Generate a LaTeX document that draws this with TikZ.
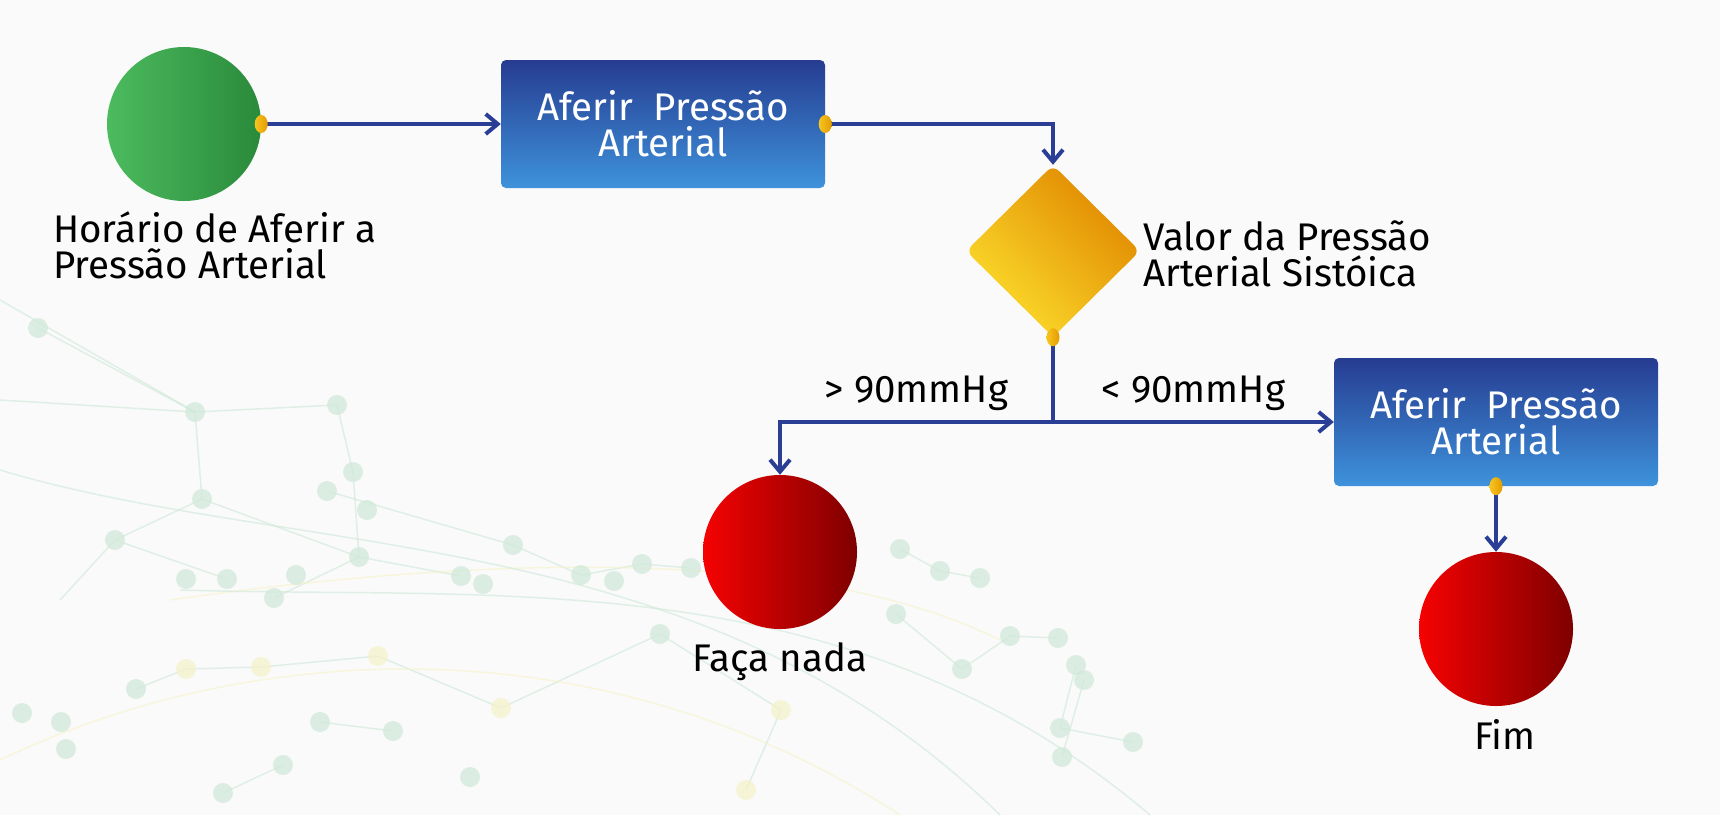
\documentclass[tikz,border=0pt]{standalone}
\usepackage{fontspec}
\setmainfont{Fira Sans}
\usetikzlibrary{arrows.meta, positioning, shapes.geometric}

\definecolor{verdeA}{HTML}{4CBB5E}
\definecolor{verdeB}{HTML}{2A8A3B}
\definecolor{azulA}{HTML}{263C91}
\definecolor{azulB}{HTML}{3E92DB}
\definecolor{amarelo}{HTML}{FCDD2C}
\definecolor{laranja}{HTML}{E08700}
\definecolor{vermA}{HTML}{F60202}
\definecolor{vermB}{HTML}{7E0000}
\definecolor{azulSeta}{HTML}{2A3E96}
\definecolor{pontoA}{HTML}{F7C520}
\definecolor{pontoB}{HTML}{E39B00}
\definecolor{fundo}{HTML}{FAFAFA}
\definecolor{verdeRede}{HTML}{CFE8D8}
\definecolor{amareloRede}{HTML}{F5F2C8}

\begin{document}
\begin{tikzpicture}[
	x=1pt, y=-1pt,
	every node/.style={font=\fontsize{38.5}{36}\selectfont},
	inicio/.style={circle, minimum size=154pt, inner sep=0, left color=verdeA, right color=verdeB},
	fim/.style={circle, minimum size=154pt, inner sep=0, left color=vermA, right color=vermB},
	acao/.style={rectangle, rounded corners=5pt, minimum width=324pt, minimum height=128pt, top color=azulA, bottom color=azulB, text=white, align=center},
	decisao/.style={diamond, minimum width=174pt, minimum height=172pt, inner sep=0, rounded corners=8pt, left color=amarelo, right color=laranja, shading angle=135},
	rotulo/.style={align=left, inner sep=0},
	ponto/.style={ellipse, minimum width=13pt, minimum height=18pt, inner sep=0, left color=pontoA, right color=pontoB},
	seta/.style={-{Straight Barb[length=12pt,width=20pt]}, line width=4pt, draw=azulSeta},
	linha/.style={line width=4pt, draw=azulSeta},
	rede/.style={draw=verdeRede, line width=1.5pt, opacity=0.6},
	nodo/.style={fill=verdeRede, opacity=0.7}
	]
	
	\useasboundingbox[fill=fundo] (0,0) rectangle (1720,815);
	
	% rede ao fundo
	\foreach \xa/\ya/\xb/\yb in {0/300/195/412, 38/328/195/412, 195/412/337/405, 0/400/195/412, 195/412/202/499,
		202/499/115/540, 337/405/353/472, 353/472/359/557, 202/499/359/557, 327/491/513/545, 359/557/274/598,
		115/540/227/579, 513/545/581/575, 581/575/642/564, 642/564/691/568, 359/557/461/576, 660/634/501/708,
		501/708/378/656, 378/656/261/667, 261/667/186/669, 186/669/136/689, 320/722/393/731, 223/793/283/765,
		900/549/940/571, 940/571/980/578, 896/614/962/669, 962/669/1010/636, 1010/636/1058/638, 1076/665/1060/728,
		1060/728/1133/742, 1084/680/1062/757, 781/710/746/790, 660/634/781/710, 115/540/60/600}
		\draw[rede] (\xa,\ya) -- (\xb,\yb);
	\draw[rede, draw=amareloRede] (170,600) .. controls (450,560) and (800,540) .. (1000,640);
	\draw[rede] (0,470) .. controls (300,560) and (700,520) .. (1000,815);
	\draw[rede, draw=amareloRede] (0,760) .. controls (250,640) and (600,620) .. (900,815);
	\draw[rede] (180,590) .. controls (500,600) and (850,560) .. (1150,815);
	\foreach \px/\py in {38/328, 195/412, 337/405, 353/472, 202/499, 115/540, 327/491, 367/510, 359/557, 513/545,
		186/579, 227/579, 296/575, 274/598, 461/576, 483/584, 581/575, 642/564, 691/568, 614/581, 660/634,
		136/689, 61/722, 66/749, 22/713, 320/722, 393/731, 223/793, 283/765, 470/777, 900/549, 940/571,
		980/578, 896/614, 962/669, 1010/636, 1058/638, 1076/665, 1084/680, 1060/728, 1062/757, 1133/742}
		\fill[nodo] (\px,\py) circle (10pt);
	\foreach \px/\py in {378/656, 501/708, 261/667, 186/669, 781/710, 746/790}
		\fill[nodo, fill=amareloRede] (\px,\py) circle (10pt);
	
	% Blocos
	\node[inicio] (inicio) at (184,124) {};
	\node[acao] (afere1) at (663,124) {Aferir~~Pressão\\Arterial};
	\node[decisao] (valor) at (1053,251) {};
	\node[acao] (afere2) at (1496,422) {Aferir~~Pressão\\Arterial};
	\node[fim] (nada) at (780,552) {};
	\node[fim] (fim) at (1496,629) {};
	
	% Textos
	\node[rotulo, anchor=north west] (txtinicio) at (53,211) {Horário de Aferir a\\Pressão Arterial};
	\node[rotulo, anchor=north west] (txtvalor) at (1143,220) {Valor da Pressão\\Arterial Sistóica};
	\node[rotulo, below=13pt of nada] (txtnada) {Faça nada};
	\node[rotulo, below=13pt of fim, xshift=9pt] (txtfim) {Fim};
	
	% Conectores
	\coordinate (juncao) at (valor.south |- afere2.west);
	\draw[seta] (inicio.east) -- (afere1.west);
	\draw[seta] (afere1.east) -| (valor.north);
	\draw[linha] (valor.south) -- (juncao);
	\draw[seta] (juncao) -| (nada.north)
	node[pos=0.25, anchor=base, yshift=20pt] (maior) {> 90mmHg};
	\draw[seta] (juncao) -- (afere2.west)
	node[midway, anchor=base, yshift=20pt] (menor) {< 90mmHg};
	\draw[seta] (afere2.south) -- (fim.north);
	
	% Pontos de saida
	\node[ponto] (p1) at (inicio.east) {};
	\node[ponto] (p2) at (afere1.east) {};
	\node[ponto] (p3) at (valor.south) {};
	\node[ponto] (p4) at (afere2.south) {};
	
\end{tikzpicture}
\end{document}
